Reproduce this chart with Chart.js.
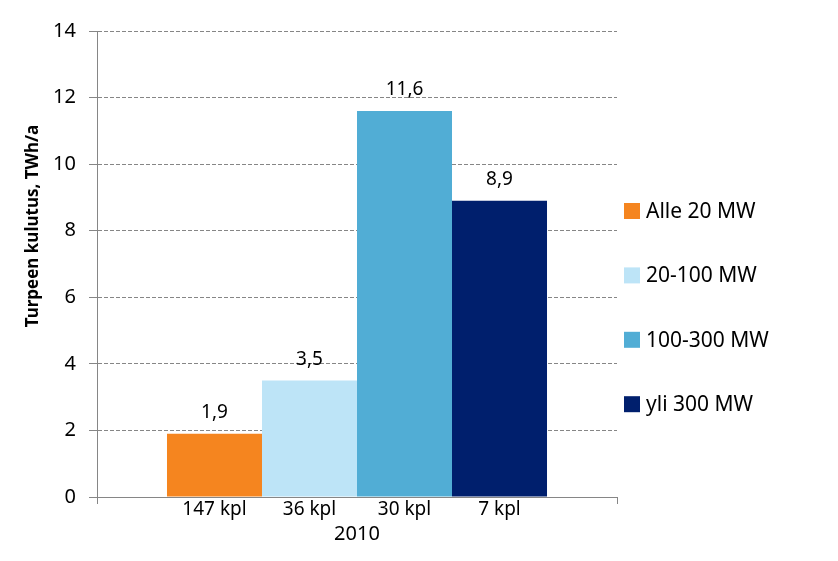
<!DOCTYPE html>
<html>
<head>
<meta charset="utf-8">
<script src="https://cdn.jsdelivr.net/npm/chart.js@4"></script>
<style>
  html, body { margin: 0; padding: 0; background: #fff; }
  #wrap { width: 838px; height: 561px; }
</style>
</head>
<body>
<div id="wrap"><canvas id="turve"></canvas></div>
<script>
// vuosi (x-akselin kategoria)
const categories = ['2010'];
// kokoluokat
const seriesNames = ['Alle 20 MW', '20-100 MW', '100-300 MW', 'yli 300 MW'];
// turpeen kulutus TWh/a
const seriesValues = [1.9, 3.5, 11.6, 8.9];
// laitosten lukumäärä
const plantCounts = ['147 kpl', '36 kpl', '30 kpl', '7 kpl'];
const seriesColors = ['#F5851F', '#BDE4F7', '#51ADD5', '#001F6D'];
const yTitle = 'Turpeen kulutus, TWh/a';

const FONT = '"Noto Sans", "Open Sans", sans-serif';

function pilkku(v) {
  return String(v).replace('.', ',');
}

// arvot pylväiden päälle, kpl-tekstit alle, selite ja y-akselin otsikko
const labelsPlugin = {
  id: 'turveLabels',
  afterDatasetsDraw(chart) {
    const { ctx, chartArea } = chart;
    ctx.save();
    ctx.fillStyle = '#000';
    ctx.textAlign = 'center';
    ctx.textBaseline = 'middle';
    ctx.font = '19px ' + FONT;
    chart.data.datasets.forEach((ds, i) => {
      const bar = chart.getDatasetMeta(i).data[0];
      if (!bar) return;
      ctx.fillText(pilkku(ds.data[0]), bar.x, bar.y - 21);
      ctx.fillText(plantCounts[i], bar.x, chartArea.bottom + 13);
    });

    // selite
    ctx.textAlign = 'left';
    ctx.font = '21px ' + FONT;
    const lx = chartArea.right + 7;
    chart.data.datasets.forEach((ds, i) => {
      const cy = 211 + i * 64.4;
      ctx.fillStyle = ds.backgroundColor;
      ctx.fillRect(lx, cy - 8, 16, 16);
      ctx.fillStyle = '#000';
      ctx.fillText(ds.label, lx + 22, cy + 1);
    });

    // y-akselin otsikko
    ctx.translate(33, 226);
    ctx.rotate(-Math.PI / 2);
    ctx.textAlign = 'center';
    ctx.font = 'bold 17px ' + FONT;
    ctx.fillText(yTitle, 0, 0);
    ctx.restore();
  }
};

new Chart(document.getElementById('turve'), {
  type: 'bar',
  data: {
    labels: categories,
    datasets: seriesNames.map((name, i) => ({
      label: name,
      data: [seriesValues[i]],
      backgroundColor: seriesColors[i],
      borderWidth: 0,
      categoryPercentage: 0.7308,
      barPercentage: 1
    }))
  },
  options: {
    responsive: true,
    maintainAspectRatio: false,
    animation: false,
    layout: {
      padding: { top: 31, right: 221, left: 0, bottom: 0 }
    },
    plugins: {
      legend: { display: false },
      tooltip: { enabled: false }
    },
    scales: {
      x: {
        afterFit(scale) { scale.height = 64; },
        grid: {
          display: true,
          offset: true,
          drawOnChartArea: false,
          drawTicks: true,
          tickLength: 7,
          color: '#868686'
        },
        border: { display: true, color: '#868686', width: 1 },
        ticks: {
          color: '#000',
          padding: 18,
          font: { family: FONT, size: 20 }
        }
      },
      y: {
        min: 0,
        max: 14,
        afterFit(scale) { scale.width = 97; },
        ticks: {
          stepSize: 2,
          color: '#000',
          padding: 13,
          font: { family: FONT, size: 20 },
          callback: v => pilkku(v)
        },
        grid: {
          color: '#868686',
          tickLength: 8,
          tickBorderDash: [],
          drawTicks: true
        },
        border: { display: true, color: '#868686', width: 1, dash: [4, 2] }
      }
    }
  },
  plugins: [labelsPlugin]
});
</script>
</body>
</html>
